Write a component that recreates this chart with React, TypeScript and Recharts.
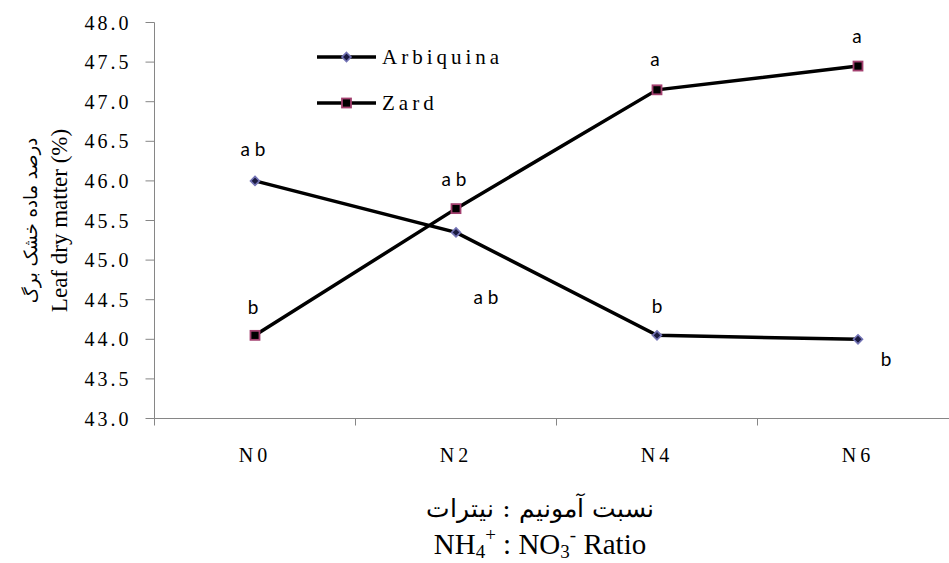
import { LineChart, Line, XAxis, YAxis, LabelList, Legend } from 'recharts';

const categories = ['N0', 'N2', 'N4', 'N6'];
const arbiquina = [46.0, 45.35, 44.05, 44.0];
const zard = [44.05, 45.65, 47.15, 47.45];
const arbiquinaLetters = ['a b', 'a b', 'b', 'b'];
const zardLetters = ['b', 'a b', 'a', 'a'];
const yTicks = [43, 43.5, 44, 44.5, 45, 45.5, 46, 46.5, 47, 47.5, 48];

const data = categories.map((name, i) => ({
  name,
  arbiquina: arbiquina[i],
  zard: zard[i],
  arbLetter: arbiquinaLetters[i],
  zardLetter: zardLetters[i],
}));

// where each significance letter sits, relative to its point
const ARB_OFFSETS = [[-2, -32], [30, 64], [0, -30], [28, 19]];
const ZARD_OFFSETS = [[-2, -29], [-2, -30], [-2, -31], [-1, -31]];

const AXIS = '#868686';
const SERIF = '"Liberation Serif", "Times New Roman", serif';
const LETTER_FONT = 'Lato, "Liberation Sans", sans-serif';

function Diamond({ cx, cy }: { cx: number; cy: number }) {
  const r = 4.5;
  return (
    <path
      d={`M${cx},${cy - r} L${cx + r},${cy} L${cx},${cy + r} L${cx - r},${cy} Z`}
      fill="#1a1a40"
      stroke="#7373b5"
      strokeWidth={1.6}
    />
  );
}

function Square({ cx, cy }: { cx: number; cy: number }) {
  const r = 4.5;
  return <rect x={cx - r} y={cy - r} width={2 * r} height={2 * r} fill="#000" stroke="#a3406f" strokeWidth={1.8} />;
}

const letterLabel = (offsets: number[][]) => (p: any) => {
  const [dx, dy] = offsets[p.index] || [0, -30];
  return (
    <text
      x={Number(p.x) + dx}
      y={Number(p.y) + dy}
      textAnchor="middle"
      dominantBaseline="central"
      fontFamily={LETTER_FONT}
      fontSize={19}
      fill="#000"
    >
      {p.value}
    </text>
  );
};

function XTick(props: any) {
  const { x, y, payload, index } = props;
  const half = payload.offset || 100.5;
  return (
    <g>
      <line x1={x - half} y1={y} x2={x - half} y2={y + 7} stroke={AXIS} />
      {index === categories.length - 1 && <line x1={x + half} y1={y} x2={x + half} y2={y + 7} stroke={AXIS} />}
      <text x={x} y={y + 36} textAnchor="middle" dominantBaseline="central" fontFamily={SERIF} fontSize={20} letterSpacing={4} fill="#000">
        {payload.value}
      </text>
    </g>
  );
}

function LegendBox() {
  const rows = [
    { name: 'Arbiquina', marker: 'diamond' },
    { name: 'Zard', marker: 'square' },
  ];
  return (
    <svg width={200} height={80} style={{ overflow: 'visible' }}>
      {rows.map((r, i) => {
        const y = 12 + i * 46;
        return (
          <g key={r.name}>
            <line x1={0} y1={y} x2={59} y2={y} stroke="#000" strokeWidth={3.5} />
            {r.marker === 'diamond' ? <Diamond cx={29.5} cy={y} /> : <Square cx={29.5} cy={y} />}
            <text x={65} y={y} dominantBaseline="central" fontFamily={SERIF} fontSize={21} letterSpacing={4} fill="#000">
              {r.name}
            </text>
          </g>
        );
      })}
    </svg>
  );
}

export default function App() {
  return (
    <div style={{ position: 'fixed', left: 0, top: 0, width: 949, height: 563, overflow: 'hidden', background: '#fff' }}>
      <LineChart width={980} height={563} data={data} margin={{ top: 22.5, right: 21.5, bottom: 104.5, left: 94.5 }}>
        <XAxis
          dataKey="name"
          scale="band"
          height={40}
          stroke={AXIS}
          tickLine={false}
          tickSize={0}
          tickMargin={0}
          tick={<XTick />}
          interval={0}
          label={{
            content: () => (
              <g fontFamily={SERIF} fill="#000" textAnchor="middle">
                <text x={540} y={508} fontSize={25} dominantBaseline="central" fontFamily='"DejaVu Serif", "Liberation Serif", serif'>
                  نسبت آمونیم : نیترات
                </text>
                <text x={540} y={544} fontSize={29} dominantBaseline="central">
                  NH<tspan fontSize={19} dy={7}>4</tspan>
                  <tspan fontSize={19} dy={-17}>+</tspan>
                  <tspan dy={10}> : NO</tspan>
                  <tspan fontSize={19} dy={7}>3</tspan>
                  <tspan fontSize={19} dy={-17}>-</tspan>
                  <tspan dy={10}> Ratio</tspan>
                </text>
              </g>
            ),
          }}
        />
        <YAxis
          domain={[43, 48]}
          ticks={yTicks}
          width={60}
          stroke={AXIS}
          tickSize={9}
          tickMargin={14}
          tickFormatter={(v: number) => v.toFixed(1)}
          tick={{ fill: '#000', fontFamily: SERIF, fontSize: 20, letterSpacing: 3 }}
          label={{
            content: (p: any) => {
              const cy = p.viewBox ? p.viewBox.y + p.viewBox.height / 2 : 220;
              return (
                <g fill="#000" textAnchor="middle">
                  <text x={30} y={cy} transform={`rotate(-90 30 ${cy})`} dominantBaseline="central" fontSize={18} fontFamily='"DejaVu Sans", sans-serif'>
                    درصد ماده خشک برگ
                  </text>
                  <text x={59} y={cy} transform={`rotate(-90 59 ${cy})`} dominantBaseline="central" fontSize={23} fontFamily={SERIF}>
                    Leaf dry matter (%)
                  </text>
                </g>
              );
            },
          }}
        />
        <Legend
          layout="vertical"
          align="center"
          verticalAlign="middle"
          wrapperStyle={{ position: 'absolute', left: 317, top: 45, width: 200 }}
          content={() => <LegendBox />}
        />
        <Line
          dataKey="arbiquina"
          name="Arbiquina"
          stroke="#000"
          strokeWidth={3.5}
          isAnimationActive={false}
          dot={(p: any) => <Diamond key={`a${p.index}`} cx={p.cx} cy={p.cy} />}
        >
          <LabelList dataKey="arbLetter" content={letterLabel(ARB_OFFSETS)} />
        </Line>
        <Line
          dataKey="zard"
          name="Zard"
          stroke="#000"
          strokeWidth={3.5}
          isAnimationActive={false}
          dot={(p: any) => <Square key={`z${p.index}`} cx={p.cx} cy={p.cy} />}
        >
          <LabelList dataKey="zardLetter" content={letterLabel(ZARD_OFFSETS)} />
        </Line>
      </LineChart>
    </div>
  );
}
